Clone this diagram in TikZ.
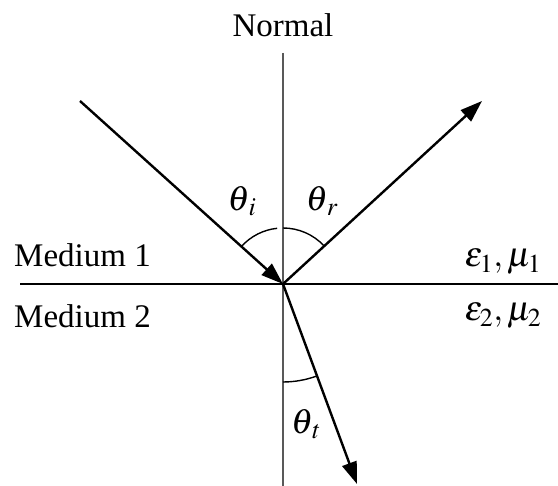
\documentclass[tikz,border=0pt]{standalone}
\usepackage{mathptmx}
\usepackage[no-math]{fontspec}
\setmainfont{Liberation Serif}
\usetikzlibrary{arrows.meta}
\begin{document}
\begin{tikzpicture}[x=1pt,y=1pt,
  lbl/.style={font=\fontsize{33}{38}\selectfont, inner sep=0pt},
  mlbl/.style={font=\fontsize{35}{40}\selectfont, inner sep=0pt},
  ray/.style={line width=2.4pt, -{Triangle[length=22pt,width=15pt]}},
  anglearc/.style={line width=1.4pt}]
\useasboundingbox (0,0) rectangle (558,486);
\coordinate (O) at (283,202);
\coordinate (ntop) at (283,433);
\coordinate (nbot) at (283,0);
\coordinate (hl) at (20,202);
\coordinate (hr) at (558,202);
\coordinate (inc) at (80,385);
\coordinate (refl) at (482,385);
\coordinate (tran) at (357,2);
% normal and interface
\draw[line width=1.8pt, black!65] (ntop) -- (nbot);
\draw[line width=2pt] (hl) -- (hr);
% rays
\draw[ray] (inc) -- (O);
\draw[ray] (O) -- (refl);
\draw[ray] (O) -- (tran);
% angle arcs
\draw[anglearc] ([shift={(138:56)}]O) arc[start angle=138, end angle=96, radius=56];
\draw[anglearc] ([shift={(90:56)}]O) arc[start angle=90, end angle=43, radius=56];
\draw[anglearc] ([shift={(-90:98)}]O) arc[start angle=-90, end angle=-70, radius=98];
% labels
\node[lbl] (normal) at (283,461) {Normal};
\node[mlbl] (ti) at (242,285) {$\theta_{\,i}$};
\node[mlbl] (tr) at (322,285) {$\theta_{\,r}$};
\node[mlbl] (tt) at (306,62) {$\theta_{\,t}$};
\node[lbl, anchor=west] (m1) at (14,231) {Medium 1};
\node[lbl, anchor=west] (m2) at (14,170) {Medium 2};
\node[mlbl] (e1) at (503,224) {$\varepsilon_1,\mu_1$};
\node[mlbl] (e2) at (503,170) {$\varepsilon_2,\mu_2$};
\end{tikzpicture}
\end{document}
